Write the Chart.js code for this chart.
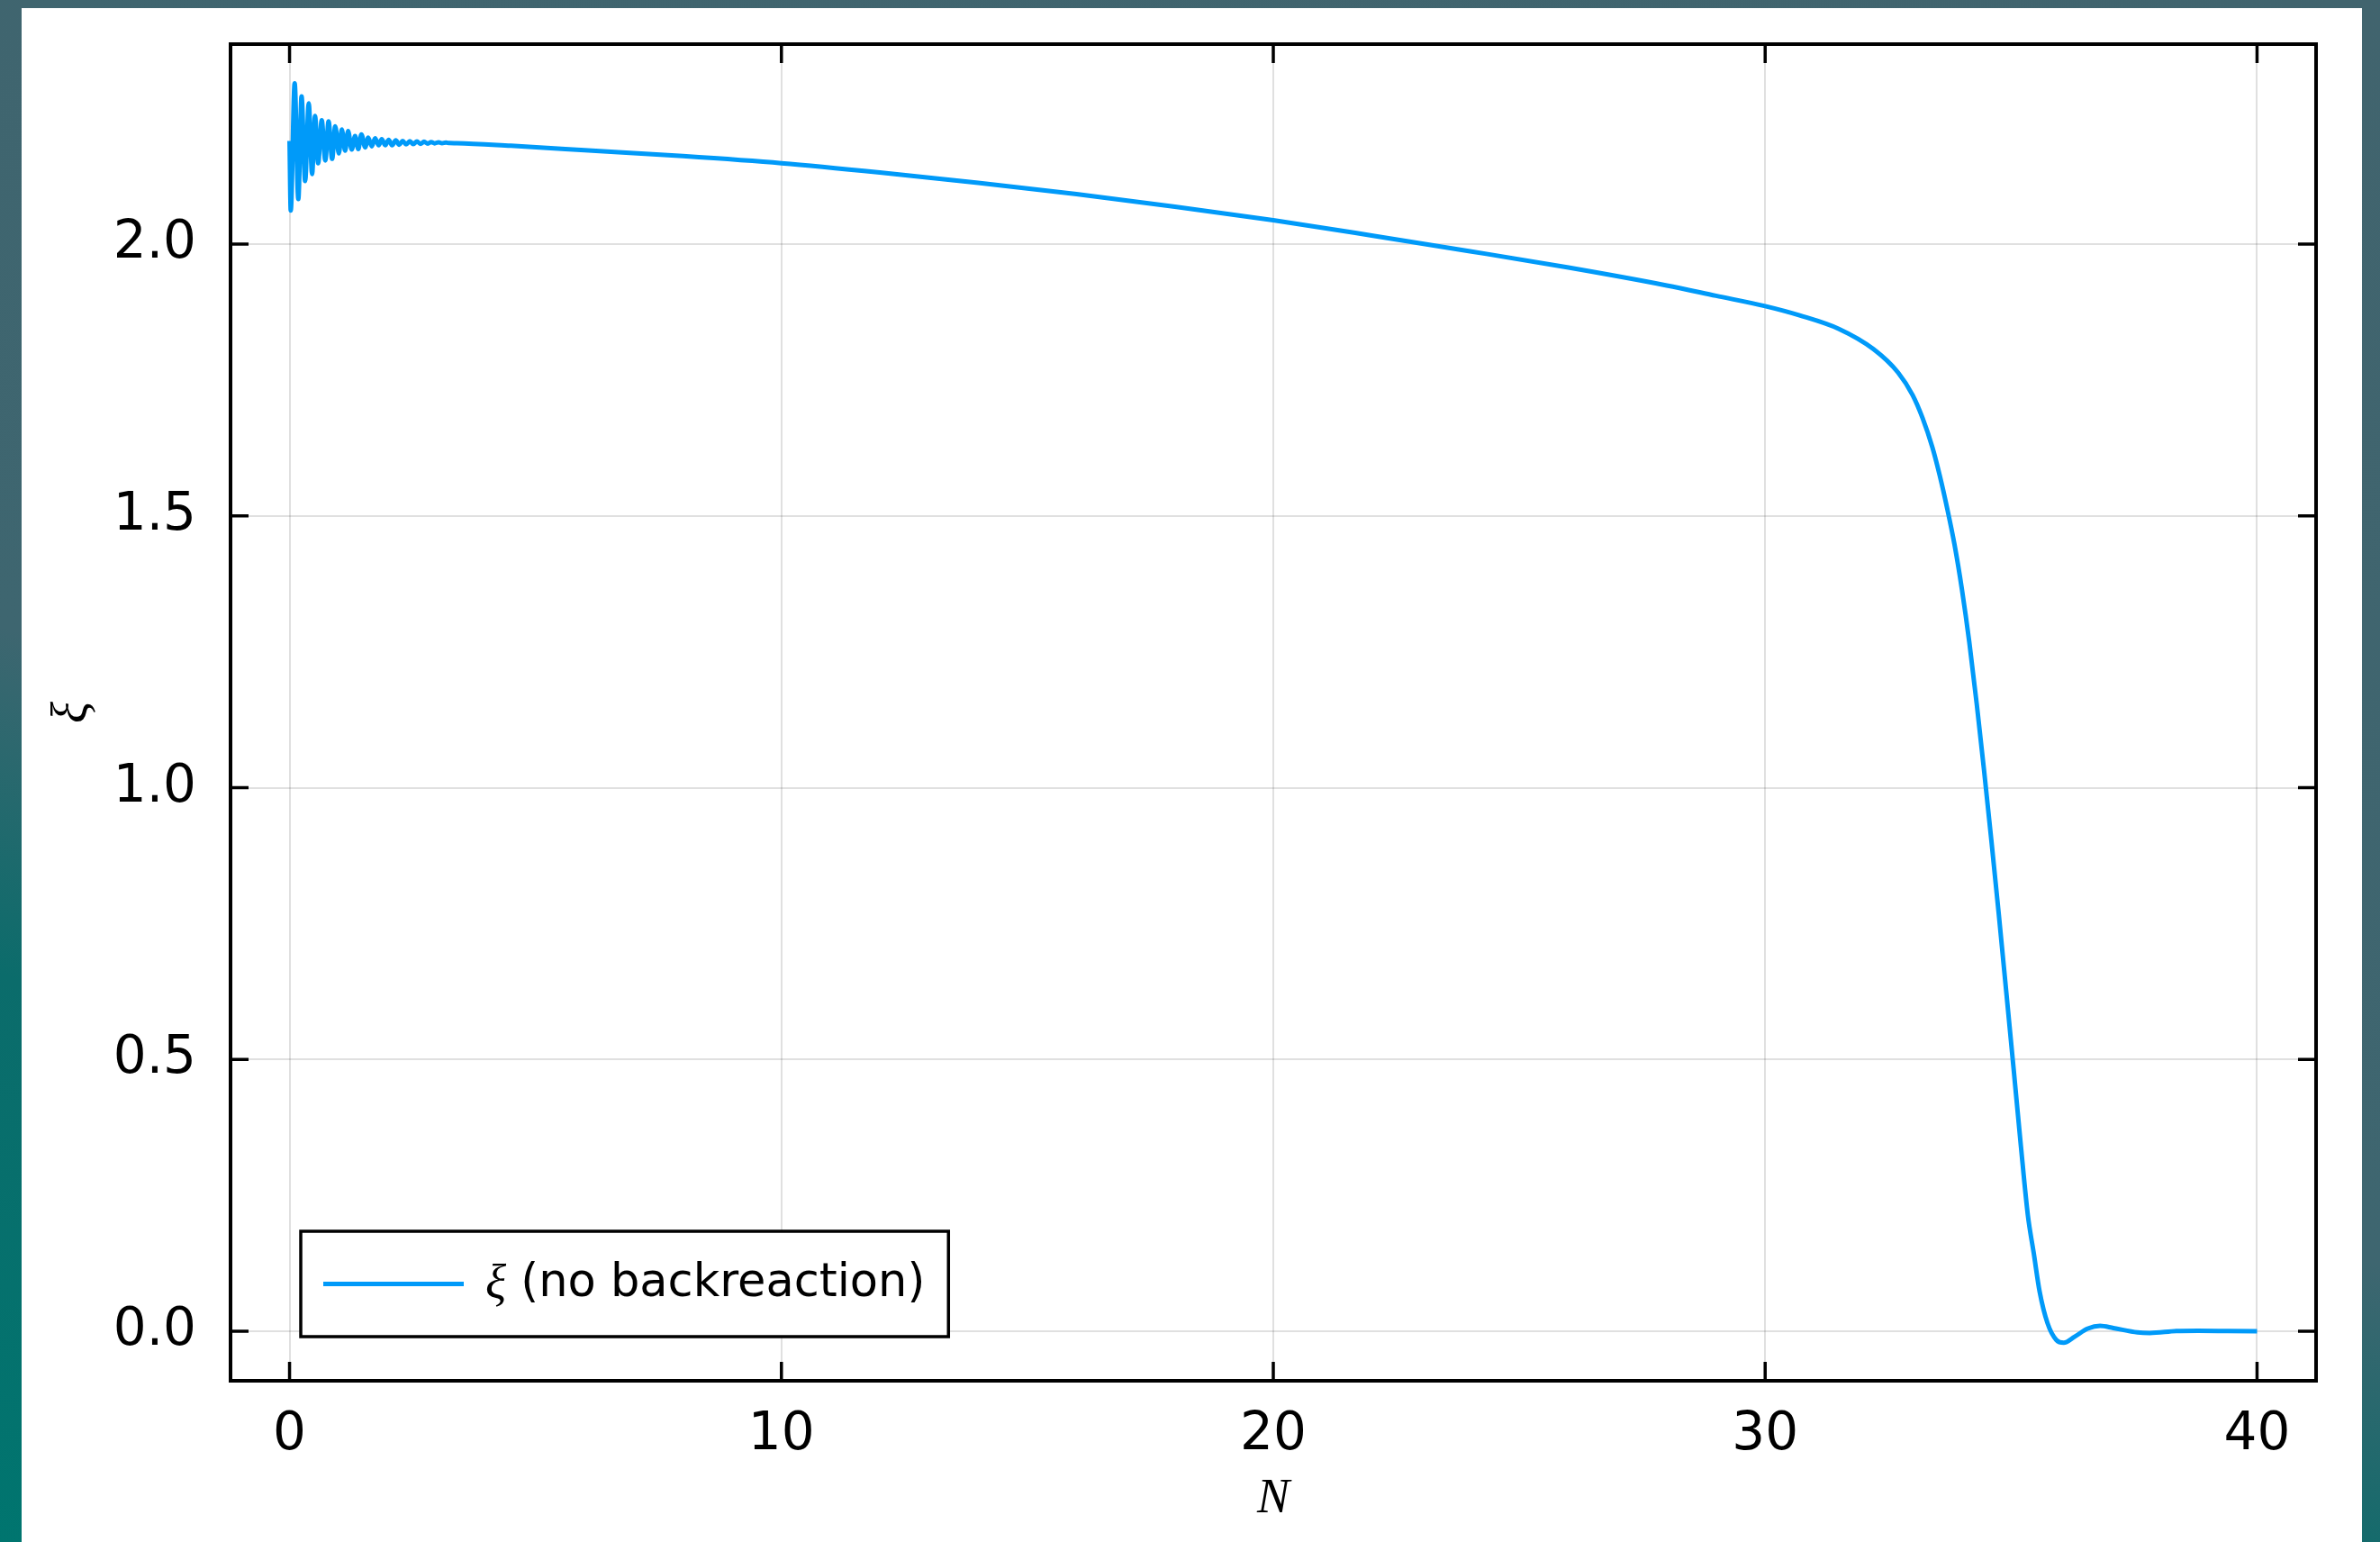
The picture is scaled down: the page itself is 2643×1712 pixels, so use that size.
<!DOCTYPE html>
<html>
<head>
<meta charset="utf-8">
<script src="https://cdn.jsdelivr.net/npm/chart.js@4.4.1/dist/chart.umd.min.js"></script>
<style>
  html, body { margin: 0; padding: 0; width: 2643px; height: 1712px; overflow: hidden; }
  body { background: linear-gradient(195deg, #41646e 0%, #3e6670 58%, #0b6c6b 74%, #00756f 100%); }
  #panel { position: absolute; left: 24px; top: 9px; width: 2599px; height: 1703px; background: #fff; }
  canvas { display: block; }
</style>
</head>
<body>
<div id="panel"><canvas id="grafico" width="2599" height="1703"></canvas></div>
<script>
// Datos: xi frente a N

// Oscilación inicial (N de 0 a ~3.4)
const nRinging = [0, 0.024, 0.104, 0.178, 0.244, 0.317, 0.390, 0.458, 0.518, 0.581,
  0.654, 0.727, 0.793, 0.866, 0.929, 1.002, 1.062, 1.130, 1.190, 1.264,
  1.332, 1.397, 1.460, 1.538, 1.599, 1.672, 1.740, 1.813, 1.874, 1.945,
  2.015, 2.085, 2.160, 2.230, 2.300, 2.370, 2.445, 2.515, 2.590, 2.660,
  2.735, 2.810, 2.880, 2.950, 3.030, 3.100, 3.180, 3.250, 3.400];
const xiRinging = [2.190, 2.062, 2.296, 2.083, 2.272, 2.116, 2.259, 2.129, 2.236, 2.149,
  2.228, 2.154, 2.226, 2.157, 2.217, 2.167, 2.211, 2.172, 2.208, 2.174,
  2.199, 2.175, 2.202, 2.178, 2.196, 2.180, 2.195, 2.182, 2.193, 2.182,
  2.192, 2.182, 2.191, 2.183, 2.190, 2.1835, 2.1895, 2.184, 2.189, 2.1845,
  2.1885, 2.185, 2.188, 2.1855, 2.1875, 2.1858, 2.1868, 2.186, 2.1858];

// Descenso lento (meseta)
const nPlateau = [4.5, 6, 8, 10, 12, 14, 16, 18, 20, 22, 24, 26, 28, 29, 30];
const xiPlateau = [2.181, 2.173, 2.162, 2.149, 2.132, 2.113, 2.092, 2.069, 2.044, 2.016,
  1.987, 1.957, 1.924, 1.905, 1.886];

// Caída brusca
const nDrop = [30.7, 31.5, 32.2, 32.7, 33.0, 33.2, 33.4, 33.55, 33.7, 33.85,
  34.0, 34.15, 34.3, 34.45, 34.6, 34.75, 34.9, 35.05, 35.2, 35.34,
  35.46, 35.58, 35.74, 35.92, 36.07];
const xiDrop = [1.869, 1.844, 1.807, 1.764, 1.722, 1.680, 1.626, 1.574, 1.514, 1.447,
  1.365, 1.268, 1.155, 1.032, 0.902, 0.767, 0.626, 0.484, 0.340, 0.214,
  0.144, 0.073, 0.015, -0.016, -0.021];

// Cola final alrededor de cero
const nTail = [36.29, 36.56, 36.81, 37.08, 37.57, 37.82, 38.36, 38.8, 39.4, 40];
const xiTail = [-0.010, 0.005, 0.010, 0.006, -0.002, -0.003, 0.0005, 0.001, 0.0005, 0];

// Ejes
const xTicks = [0, 10, 20, 30, 40];
const yTicks = [0, 0.5, 1.0, 1.5, 2.0];
const xRange = [-1.2, 41.2];
const yRange = [-0.091, 2.368];

const serieLabel = 'ξ (no backreaction)';
const lineColor = '#009af9';

// Unir los tramos en una sola serie de puntos {x, y}
const nAll = nRinging.concat(nPlateau, nDrop, nTail);
const xiAll = xiRinging.concat(xiPlateau, xiDrop, xiTail);
const puntos = nAll.map((n, i) => ({ x: n, y: xiAll[i] }));

const sansFont = 'DejaVu Sans';
const mathFont = 'Liberation Serif';

// Marco, marcas interiores y leyenda
const marcoPlugin = {
  id: 'marco',
  afterDatasetsDraw(chart) {
    const { ctx, chartArea: a, scales: { x, y } } = chart;
    ctx.save();
    ctx.strokeStyle = '#000';
    ctx.lineWidth = 4;
    ctx.strokeRect(a.left, a.top, a.right - a.left, a.bottom - a.top);

    ctx.lineWidth = 3.5;
    ctx.beginPath();
    xTicks.forEach(v => {
      const px = x.getPixelForValue(v);
      ctx.moveTo(px, a.bottom); ctx.lineTo(px, a.bottom - 21);
      ctx.moveTo(px, a.top); ctx.lineTo(px, a.top + 21);
    });
    yTicks.forEach(v => {
      const py = y.getPixelForValue(v);
      ctx.moveTo(a.left, py); ctx.lineTo(a.left + 20, py);
      ctx.moveTo(a.right, py); ctx.lineTo(a.right - 20, py);
    });
    ctx.stroke();

    // leyenda abajo a la izquierda
    const ds = chart.data.datasets[0];
    const simbolo = ds.label.slice(0, 1);
    const resto = ds.label.slice(1);
    const boxL = a.left + 78;
    const boxH = 117;
    const boxT = a.bottom - 49 - boxH;
    const midY = boxT + boxH / 2;

    ctx.font = 'italic 54px "' + mathFont + '"';
    const w1 = ctx.measureText(simbolo).width;
    ctx.font = '51px "' + sansFont + '"';
    const w2 = ctx.measureText(resto).width;
    const textL = boxL + 205;
    const boxW = 205 + w1 + w2 + 26;

    ctx.fillStyle = '#fff';
    ctx.fillRect(boxL, boxT, boxW, boxH);
    ctx.lineWidth = 3.5;
    ctx.strokeRect(boxL, boxT, boxW, boxH);

    ctx.strokeStyle = ds.borderColor;
    ctx.lineWidth = ds.borderWidth;
    ctx.beginPath();
    ctx.moveTo(boxL + 25, midY);
    ctx.lineTo(boxL + 181, midY);
    ctx.stroke();

    ctx.fillStyle = '#000';
    ctx.textBaseline = 'middle';
    ctx.textAlign = 'left';
    ctx.font = 'italic 54px "' + mathFont + '"';
    ctx.fillText(simbolo, textL, midY + 2);
    ctx.font = '51px "' + sansFont + '"';
    ctx.fillText(resto, textL + w1, midY);
    ctx.restore();
  }
};

const ctx = document.getElementById('grafico');

new Chart(ctx, {
  type: 'line',
  data: {
    datasets: [{
      label: serieLabel,
      data: puntos,
      borderColor: lineColor,
      borderWidth: 5,
      pointRadius: 0,
      fill: false,
      cubicInterpolationMode: 'monotone'
    }]
  },
  options: {
    responsive: false,
    animation: false,
    layout: { padding: { top: 40, right: 51, left: 0, bottom: 0 } },
    plugins: {
      legend: { display: false },
      tooltip: { enabled: false }
    },
    scales: {
      x: {
        type: 'linear',
        min: xRange[0],
        max: xRange[1],
        afterBuildTicks: s => { s.ticks = xTicks.map(v => ({ value: v })); },
        afterFit: s => { s.height = 179; s.paddingLeft = 0; s.paddingRight = 0; },
        border: { display: false },
        grid: { color: 'rgba(0,0,0,0.12)', lineWidth: 2, drawTicks: false },
        ticks: {
          autoSkip: false,
          maxRotation: 0,
          padding: 26,
          color: '#000',
          font: { family: sansFont, size: 58 },
          callback: v => String(v)
        },
        title: {
          display: true,
          text: 'N',
          color: '#000',
          font: { family: mathFont, size: 54, style: 'italic' },
          padding: { top: 0, bottom: 15 }
        }
      },
      y: {
        type: 'linear',
        min: yRange[0],
        max: yRange[1],
        afterBuildTicks: s => { s.ticks = yTicks.map(v => ({ value: v })); },
        afterFit: s => { s.width = 232; s.paddingTop = 0; s.paddingBottom = 0; },
        border: { display: false },
        grid: { color: 'rgba(0,0,0,0.12)', lineWidth: 2, drawTicks: false },
        ticks: {
          autoSkip: false,
          padding: 38,
          color: '#000',
          font: { family: sansFont, size: 58 },
          callback: v => v.toFixed(1)
        },
        title: {
          display: true,
          text: 'ξ',
          color: '#000',
          font: { family: mathFont, size: 56, style: 'italic' },
          padding: { top: 24, bottom: 0 }
        }
      }
    }
  },
  plugins: [marcoPlugin]
});
</script>
</body>
</html>
